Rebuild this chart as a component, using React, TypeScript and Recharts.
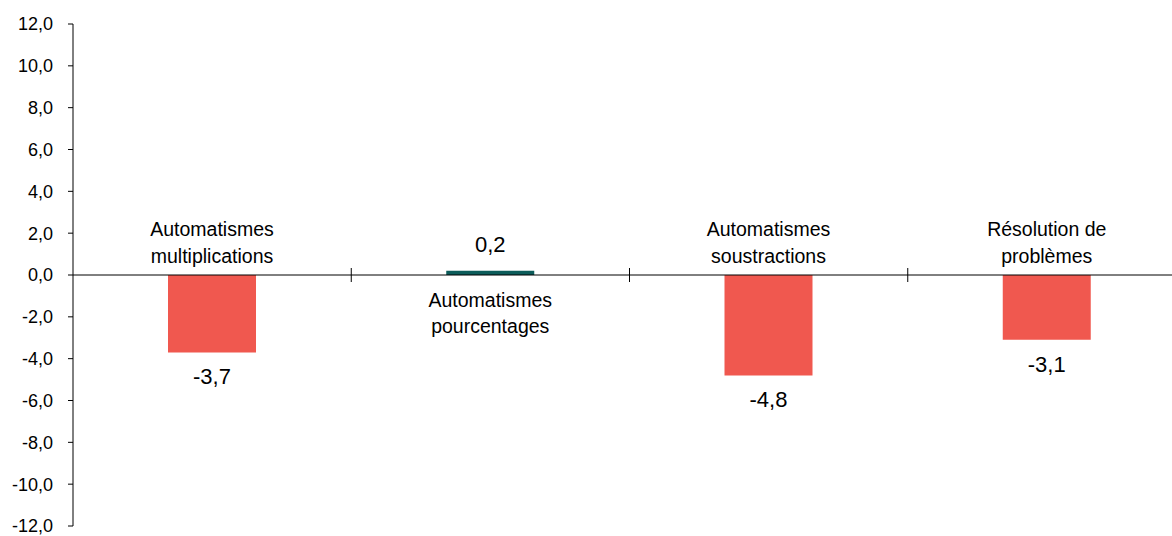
import { BarChart, Bar, XAxis, YAxis, Cell, LabelList, ReferenceLine } from 'recharts'

const categories = [
  'Automatismes\nmultiplications',
  'Automatismes\npourcentages',
  'Automatismes\nsoustractions',
  'Résolution de\nproblèmes'
]
const values = [-3.7, 0.2, -4.8, -3.1]
const yTicks = [-12, -10, -8, -6, -4, -2, 0, 2, 4, 6, 8, 10, 12]

const data = categories.map((name, i) => ({ name, value: values[i] }))

const FONT = '"Liberation Sans", Arial, sans-serif'
const RED = '#f0584f'
const TEAL = '#0c5c5a'

const fmt = (v: number) => v.toFixed(1).replace('.', ',')

// zero line with small category separators crossing it
function ZeroLine(props: any) {
  const { x1, x2, y1 } = props
  const n = categories.length
  const step = (x2 - x1) / n
  const marks = []
  for (let i = 1; i <= n; i++) {
    const x = x1 + step * i
    marks.push(<line key={i} x1={x} x2={x} y1={y1 - 7} y2={y1 + 7} stroke="#000" strokeWidth={1} />)
  }
  return (
    <g>
      <line x1={x1} x2={x2} y1={y1} y2={y1} stroke="#000" strokeWidth={1} />
      {marks}
    </g>
  )
}

function BarLabels(props: any) {
  const vb = props.viewBox ?? props
  const x = Number(vb.x)
  const y = Number(vb.y)
  const w = Number(vb.width)
  const h = Number(vb.height)
  const top = Math.min(y, y + h)
  const bottom = Math.max(y, y + h)
  const cx = x + w / 2
  const v = Number(props.value)
  const lines = categories[props.index].split('\n')

  if (v < 0) {
    return (
      <g>
        {lines.map((l, i) => (
          <text key={i} x={cx} y={top - 12 - 27 * (lines.length - 1 - i)} textAnchor="middle"
            fontSize={19.5} fontFamily={FONT} fill="#000">{l}</text>
        ))}
        <text x={cx} y={bottom + 32} textAnchor="middle" fontSize={22} fontFamily={FONT} fill="#000">{fmt(v)}</text>
      </g>
    )
  }
  return (
    <g>
      {lines.map((l, i) => (
        <text key={i} x={cx} y={bottom + 32 + 26 * i} textAnchor="middle"
          fontSize={19.5} fontFamily={FONT} fill="#000">{l}</text>
      ))}
      <text x={cx} y={top - 18.5} textAnchor="middle" fontSize={22} fontFamily={FONT} fill="#000">{fmt(v)}</text>
    </g>
  )
}

export default function App() {
  return (
    <div style={{ position: 'absolute', left: 0, top: 0, width: 1172, height: 536, overflow: 'hidden', background: '#fff' }}>
      <BarChart width={1200} height={536} data={data} margin={{ top: 24, right: 14, bottom: 10, left: 0 }} barSize={88}>
        <XAxis dataKey="name" hide />
        <YAxis
          width={73}
          domain={[-12, 12]}
          ticks={yTicks}
          interval={0}
          tickFormatter={fmt}
          axisLine={{ stroke: '#000' }}
          tickLine={{ stroke: '#000' }}
          tickSize={5}
          tickMargin={15}
          tick={{ fill: '#000', fontSize: 18, fontFamily: FONT }}
        />
        <ReferenceLine y={0} shape={ZeroLine} />
        <Bar dataKey="value" isAnimationActive={false}>
          {data.map((d, i) => (
            <Cell key={i} fill={d.value < 0 ? RED : TEAL} />
          ))}
          <LabelList dataKey="value" content={BarLabels} />
        </Bar>
      </BarChart>
    </div>
  )
}
